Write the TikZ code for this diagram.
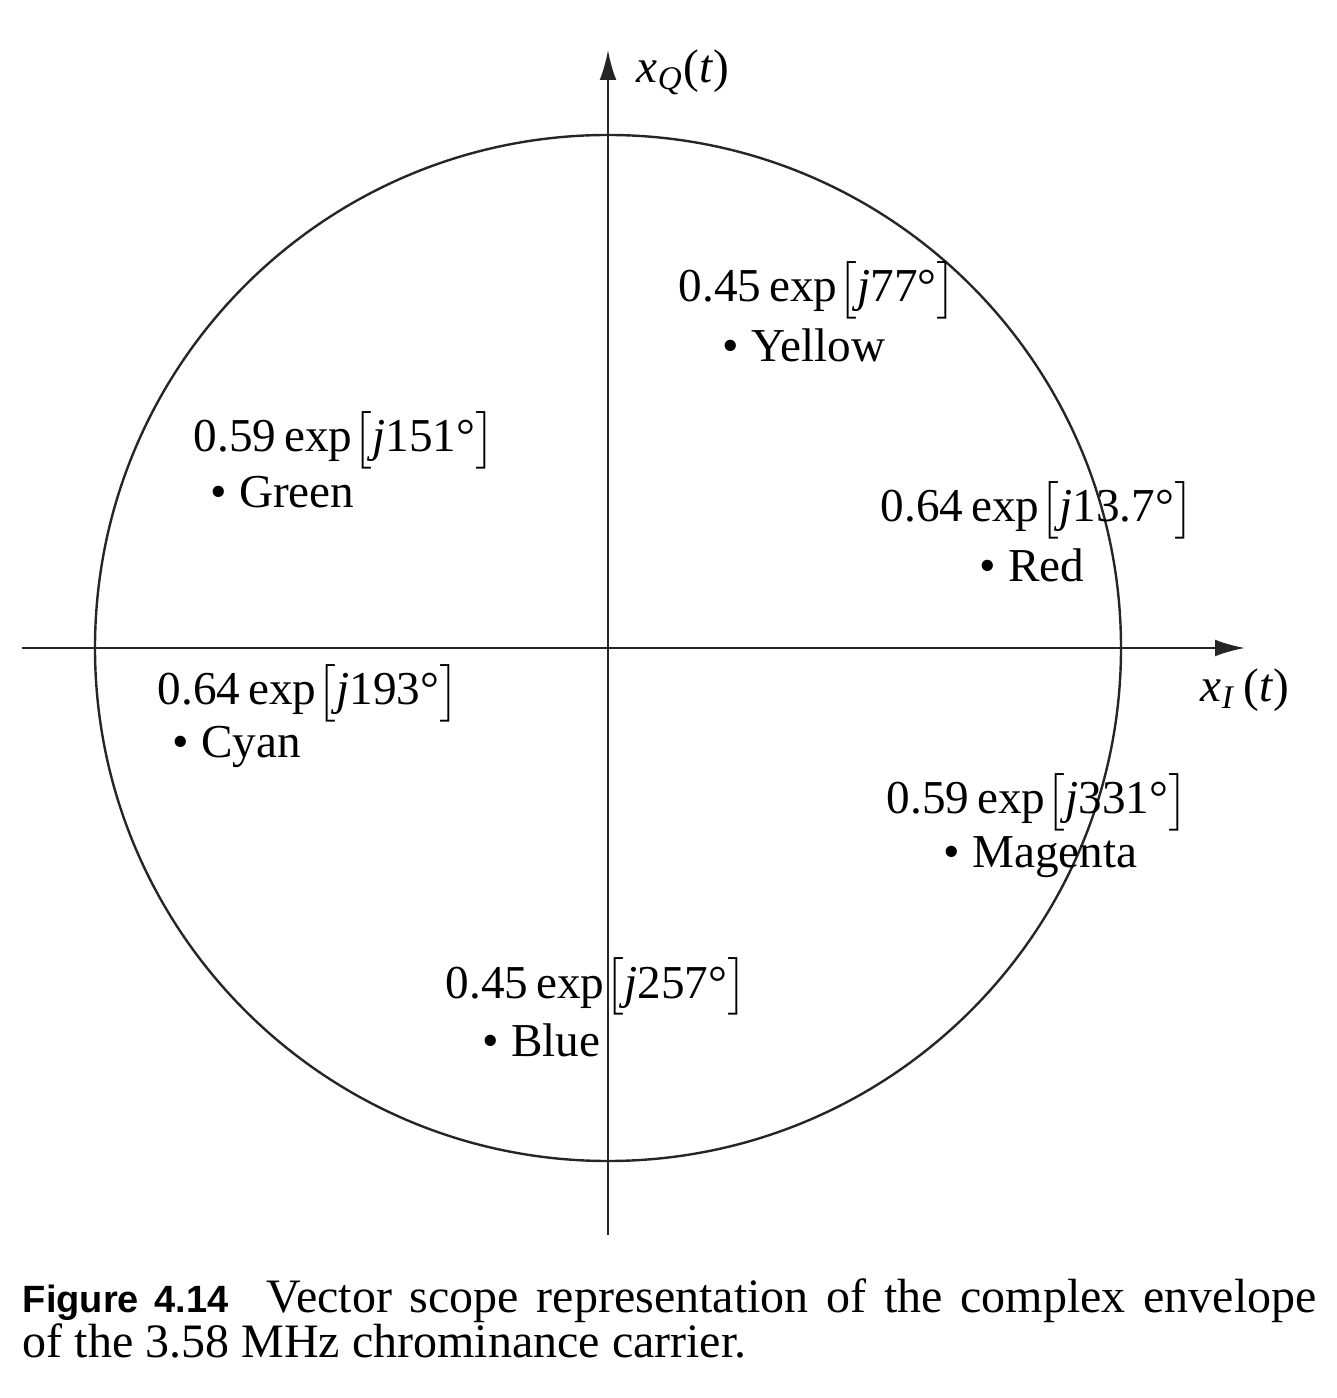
\documentclass[tikz,border=0pt]{standalone}
\usepackage{amsmath}
\usepackage{fontspec}
\setmainfont{Liberation Serif}
\newfontfamily\figlabelfont{Liberation Sans}
\usepackage{tikz}
\usetikzlibrary{arrows.meta}
\tikzset{
    scope-line/.style = {line width=0.6pt, black!85},
    axis-arrow/.style = {scope-line, -{Latex[length=7.5pt, width=4.2pt]}},
    phasor-label/.style = {anchor=west, inner sep=0pt, font=\fontsize{11.8}{13.5}\selectfont},
    color-label/.style = {anchor=west, inner sep=0pt, font=\fontsize{11.8}{13.5}\selectfont},
}
\newcommand{\phasor}[2]{#1\,exp$\bigl[$\textit{j}#2°$\bigr]$}

\begin{document}
\begin{tikzpicture}[x=0.25pt, y=0.25pt]
\useasboundingbox (-608,-750) rectangle (728,648);
% axes and unit circle
\coordinate (i-start) at (-586,0);
\coordinate (i-end) at (637,0);
\coordinate (q-start) at (0,-587);
\coordinate (q-end) at (0,598);
\draw[scope-line] (0,0) circle (513);
\draw[axis-arrow] (i-start) -- (i-end);
\draw[axis-arrow] (q-start) -- (q-end);
\node[phasor-label] (q-label) at (28,576) {\textit{x}\textsubscript{\textit{Q}}(\textit{t})};
\node[phasor-label] (i-label) at (592,-42) {\textit{x}\textsubscript{\textit{I}}\,(\textit{t})};

% colour bars
\node[phasor-label] (yellow-exp) at (70,358) {\phasor{0.45}{77}};
\node[color-label] (yellow) at (114,303) {\textbullet\ Yellow};
\node[phasor-label] (green-exp) at (-415,208) {\phasor{0.59}{151}};
\node[color-label] (green) at (-398,156) {\textbullet\ Green};
\node[phasor-label] (red-exp) at (272,138) {\phasor{0.64}{13.7}};
\node[color-label] (red) at (371,83) {\textbullet\ Red};
\node[phasor-label] (cyan-exp) at (-451,-45) {\phasor{0.64}{193}};
\node[color-label] (cyan) at (-436,-99) {\textbullet\ Cyan};
\node[phasor-label] (magenta-exp) at (278,-154) {\phasor{0.59}{331}};
\node[color-label] (magenta) at (335,-209) {\textbullet\ Magenta};
\node[phasor-label] (blue-exp) at (-163,-338) {\phasor{0.45}{257}};
\node[color-label] (blue) at (-126,-392) {\textbullet\ Blue};

% caption
\node[anchor=north west, inner sep=0pt, text width=323.5pt, align=justify,
      font=\fontsize{12}{11.3}\selectfont] (caption) at (-586,-630)
    {{\figlabelfont\bfseries\fontsize{9.5}{11.3}\selectfont Figure 4.14}\hspace{0.8em}Vector scope representation of the complex envelope\linebreak of the 3.58 MHz chrominance carrier.};
\end{tikzpicture}
\end{document}
